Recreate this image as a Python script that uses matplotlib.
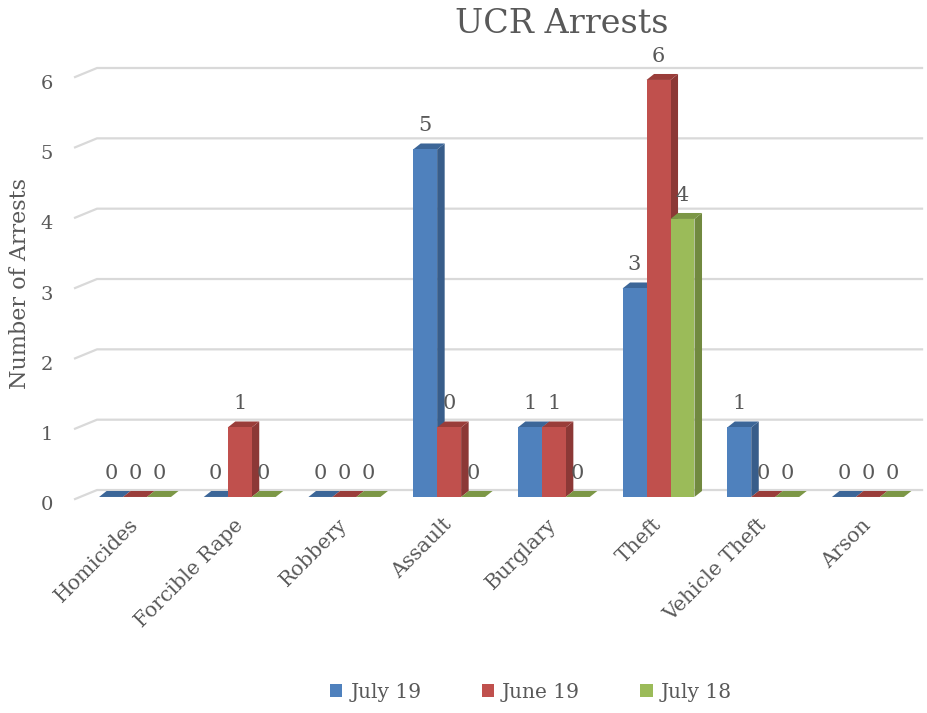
import matplotlib
matplotlib.use("Agg")
import matplotlib.pyplot as plt
from matplotlib.patches import Polygon, Patch

categories = ["Homicides", "Forcible Rape", "Robbery", "Assault",
              "Burglary", "Theft", "Vehicle Theft", "Arson"]
series_names = ["July 19", "June 19", "July 18"]
july19 = [0, 0, 0, 5, 1, 3, 1, 0]
june19 = [0, 1, 0, 1, 1, 6, 0, 0]
july18 = [0, 0, 0, 0, 0, 4, 0, 0]
# data labels as printed on the chart (Assault June 19 reads 0)
july19_labels = ["0", "0", "0", "5", "1", "3", "1", "0"]
june19_labels = ["0", "1", "0", "0", "1", "6", "0", "0"]
july18_labels = ["0", "0", "0", "0", "0", "4", "0", "0"]
y_ticks = [0, 1, 2, 3, 4, 5, 6]

front = ["#4F81BD", "#C0504D", "#9BBB59"]
side = ["#385D8A", "#8C3836", "#71893F"]
top = ["#3C6698", "#9A3D3A", "#7C9746"]
text_col = "#595959"
font = "DejaVu Serif"

fig = plt.figure(figsize=(9.27, 7.13), dpi=100)
ax = fig.add_axes([0.0779, 0.2835, 0.9216, 0.6336])
ax.set_xlim(-0.6, 7.56)
ax.set_ylim(-0.2, 6.3)
for s in ax.spines.values():
    s.set_visible(False)

# back-wall gridlines with a short slanted floor edge on the left
for v in y_ticks:
    gy = 0.1 + 1.012 * v
    ax.plot([-0.573, -0.363, 7.517], [gy - 0.13, gy, gy],
            color="#D9D9D9", lw=1.6, zorder=1, clip_on=False)

w = 0.229
dx, dy = 0.072, 0.086
series = [july19, june19, july18]
labels = [july19_labels, june19_labels, july18_labels]
for i in range(len(categories)):
    for k in range(3):
        x0 = i + (k - 1) * w - w / 2
        h = series[k][i]
        z = 3 + i * 3 + k
        ax.add_patch(Polygon([(x0 + w, 0), (x0 + w + dx, dy), (x0 + w + dx, h + dy), (x0 + w, h)],
                             closed=True, fc=side[k], ec="none", zorder=z))
        ax.add_patch(Polygon([(x0, h), (x0 + dx, h + dy), (x0 + w + dx, h + dy), (x0 + w, h)],
                             closed=True, fc=top[k], ec="none", zorder=z))
        if h > 0:
            ax.add_patch(Polygon([(x0, 0), (x0 + w, 0), (x0 + w, h), (x0, h)],
                                 closed=True, fc=front[k], ec="none", zorder=z))
        ax.text(x0 + w / 2, h + 0.34, labels[k][i], ha="center", va="center",
                fontsize=15, color=text_col, family=font, zorder=50)

ax.set_yticks([v * 1.009 - 0.086 for v in y_ticks])
ax.set_yticklabels([str(v) for v in y_ticks])
ax.tick_params(axis="y", length=0, pad=14, labelsize=14, labelcolor=text_col)
ax.set_xticks(range(len(categories)))
ax.set_xticklabels(categories, rotation=45, ha="right", va="center",
                   rotation_mode="anchor")
ax.tick_params(axis="x", length=0, pad=8, labelsize=14.7, labelcolor=text_col)
for t in ax.get_xticklabels() + ax.get_yticklabels():
    t.set_family(font)

fig.text(20 / 927, 1 - 283 / 713, "Number of Arrests", rotation=90, ha="center",
         va="center", fontsize=16, color=text_col, family=font)
fig.text(562 / 927, 1 - 24 / 713, "UCR Arrests", ha="center", va="center",
         fontsize=24, color=text_col, family=font)

handles = [Patch(fc=front[k], ec="none") for k in range(3)]
leg = fig.legend(handles, series_names, loc="center", bbox_to_anchor=(531 / 927, 1 - 692 / 713),
                 ncol=3, frameon=False, handlelength=0.6, handleheight=0.6,
                 handletextpad=0.4, columnspacing=3.0,
                 prop={"family": font, "size": 14.5})
for t in leg.get_texts():
    t.set_color(text_col)

fig.savefig("out.png", dpi=100)
